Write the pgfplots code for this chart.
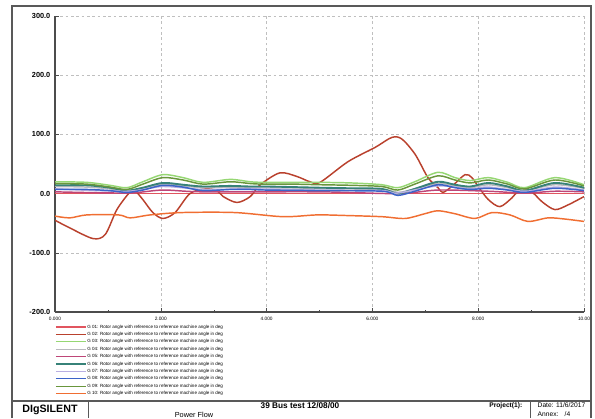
\documentclass[border=0pt]{standalone}
\usepackage{pgfplots}
\pgfplotsset{compat=1.18}
\usepackage{fontspec}
\setmainfont{Liberation Sans}
\definecolor{cG01}{RGB}{225,85,95}
\definecolor{cG02}{RGB}{185,65,45}
\definecolor{cG03}{RGB}{150,215,115}
\definecolor{cG04}{RGB}{185,185,190}
\definecolor{cG05}{RGB}{190,70,120}
\definecolor{cG06}{RGB}{55,130,120}
\definecolor{cG07}{RGB}{185,175,225}
\definecolor{cG08}{RGB}{60,100,200}
\definecolor{cG09}{RGB}{105,150,60}
\definecolor{cG10}{RGB}{240,110,50}
\begin{document}
\begin{tikzpicture}[x=0.75pt,y=0.75pt]
\path[use as bounding box] (0,0) rectangle (595,418);
\draw[black!65, line width=0.9pt] (12,0) -- (12,412) -- (591,412) -- (591,0);
\draw[black!65, line width=0.9pt] (12,17) -- (591,17);
\draw[black!65, line width=0.7pt] (88,0) -- (88,17);
\draw[black!65, line width=0.7pt] (530,0) -- (530,17);
\node[font=\fontsize{8}{9}\selectfont\bfseries] at (50,8) {DIgSILENT};
\node[font=\fontsize{6.2}{7}\selectfont\bfseries] at (300,12.5) {39 Bus test 12/08/00};
\node[font=\fontsize{5.5}{6}\selectfont] at (194,3) {Power Flow};
\node[font=\fontsize{5}{6}\selectfont\bfseries, anchor=east] at (527,12.5) {Project(1):};
\node[font=\fontsize{5}{6}\selectfont, anchor=west] at (533,12.5) {Date: 11/6/2017};
\node[font=\fontsize{5}{6}\selectfont, anchor=west] at (533,4) {Annex: \ \ /4};
\begin{axis}[
  at={(41.25pt,79.5pt)}, anchor=south west,
  scale only axis, width=396.75pt, height=222pt,
  xmin=0, xmax=10, ymin=-200, ymax=300,
  axis x line*=bottom, axis y line*=left,
  axis line style={black!70, line width=0.8pt},
  grid=major, major grid style={dash pattern=on 2pt off 2pt, black!25, line width=0.4pt},
  xtick={0,2,4,6,8,10},
  xticklabels={0.000,2.000,4.000,6.000,8.000,10.00},
  ytick={-200,-100,0,100,200,300},
  minor x tick num=1,
  /pgf/number format/assume math mode=true,
  y tick label style={/pgf/number format/fixed, /pgf/number format/fixed zerofill, /pgf/number format/precision=1, font=\fontsize{5.5}{6}\selectfont\bfseries},
  x tick label style={font=\fontsize{3.6}{4}\selectfont},
  tick align=inside, major tick length=3pt, minor tick length=1.5pt,
  tick style={black!70},
  legend style={at={(0,-0.04)}, anchor=north west, draw=none, fill=none,
    font=\fontsize{3.4}{4}\selectfont, inner sep=0pt,
    nodes={inner sep=0.5pt, text height=2.5pt, text depth=0.8pt},
    row sep=1.25pt},
  legend cell align=left,
  legend image code/.code={\draw[#1, line width=1pt] (0pt,0pt) -- (22.5pt,0pt);},
  every axis plot/.append style={line width=1.1pt, smooth, tension=0.5},
]
\addplot[cG01] coordinates {(0,0)(10,0)};
\addlegendentry{G 01: Rotor angle with reference to reference machine angle in deg}
\addplot[cG02] coordinates {(0,-45)(0.28,-58)(0.72,-76)(0.95,-69)(1.17,-27)(1.42,3)(1.51,5)(1.66,-10)(1.85,-32)(2.04,-42)(2.27,-32)(2.55,0)(2.84,8)(3.06,5)(3.18,-5)(3.44,-15)(3.69,-5)(3.88,15)(4.25,35)(4.57,29)(4.82,20)(5.01,19)(5.54,54)(6.05,78)(6.37,95)(6.56,92)(6.81,66)(7.05,27)(7.24,10)(7.33,2)(7.50,12)(7.75,32)(7.88,27)(8.00,12)(8.19,-10)(8.41,-22)(8.64,-7)(8.75,3)(8.98,5)(9.21,-14)(9.45,-27)(9.70,-19)(10,-5)};
\addlegendentry{G 02: Rotor angle with reference to reference machine angle in deg}
\addplot[cG03] coordinates {(0,20)(0.6,19)(1.04,14)(1.36,10)(1.66,20)(2.04,32)(2.42,27)(2.8,19)(3.31,24)(3.69,20)(3.93,19)(4.5,19)(5.0,19)(5.6,18)(6.18,15)(6.48,10)(6.8,20)(7.24,36)(7.56,27)(7.85,22)(8.19,27)(8.56,19)(8.88,10)(9.45,27)(10,15)};
\addlegendentry{G 03: Rotor angle with reference to reference machine angle in deg}
\addplot[cG04] coordinates {(0,12)(0.6,11)(1.04,8)(1.36,4)(1.66,9)(2.04,16)(2.42,13)(2.8,10)(3.31,11)(3.69,10)(4,10)(5,9)(6.18,7)(6.48,2)(6.8,8)(7.24,17)(7.56,13)(7.85,10)(8.19,15)(8.56,10)(8.88,5)(9.45,15)(10,9)};
\addlegendentry{G 04: Rotor angle with reference to reference machine angle in deg}
\addplot[cG05] coordinates {(0,3)(1.36,1)(2.04,6)(2.8,3)(5,3)(6.48,0)(7.24,6)(8.19,4)(8.88,1)(9.45,4)(10,3)};
\addlegendentry{G 05: Rotor angle with reference to reference machine angle in deg}
\addplot[cG06, line width=1.4pt] coordinates {(0,14)(0.6,14)(1.04,10)(1.36,5)(1.66,10)(2.04,18)(2.42,15)(2.8,12)(3.31,13)(3.69,12)(4,12)(5,10)(5.6,9)(6.18,8)(6.48,0)(6.8,8)(7.24,20)(7.56,15)(7.85,12)(8.19,18)(8.56,12)(8.88,5)(9.45,18)(10,10)};
\addlegendentry{G 06: Rotor angle with reference to reference machine angle in deg}
\addplot[cG07] coordinates {(0,8)(1.36,4)(2.04,12)(2.8,7)(3.69,8)(5,6)(6.18,5)(6.48,1)(7.24,13)(7.85,8)(8.19,11)(8.88,4)(9.45,11)(10,6)};
\addlegendentry{G 07: Rotor angle with reference to reference machine angle in deg}
\addplot[cG08] coordinates {(0,7)(0.6,7)(1.04,5)(1.36,2)(1.66,6)(2.04,14)(2.42,11)(2.8,5)(3.31,7)(3.69,7)(4,6)(5,5)(6.18,4)(6.48,-3)(6.8,4)(7.24,15)(7.56,10)(7.85,7)(8.19,9)(8.56,6)(8.88,2)(9.45,9)(10,5)};
\addlegendentry{G 08: Rotor angle with reference to reference machine angle in deg}
\addplot[cG09] coordinates {(0,17)(0.6,16)(1.04,11)(1.36,7)(1.66,16)(2.04,27)(2.42,23)(2.8,16)(3.31,20)(3.69,17)(3.93,16)(4.5,16)(5.0,15)(5.6,14)(6.18,12)(6.48,6)(6.8,16)(7.24,30)(7.56,23)(7.85,18)(8.19,23)(8.56,16)(8.88,8)(9.45,23)(10,13)};
\addlegendentry{G 09: Rotor angle with reference to reference machine angle in deg}
\addplot[cG10] coordinates {(0,-38)(0.28,-41)(0.6,-36)(1.2,-36)(1.42,-41)(1.8,-36)(2.4,-32)(3.4,-32)(4.31,-39)(4.95,-36)(5.5,-37)(6.18,-39)(6.62,-42)(6.99,-34)(7.24,-29)(7.56,-34)(7.94,-42)(8.26,-32)(8.6,-36)(8.94,-47)(9.32,-41)(9.64,-43)(10,-47)};
\addlegendentry{G 10: Rotor angle with reference to reference machine angle in deg}
\node[font=\fontsize{3.6}{4}\selectfont, anchor=north, yshift=-3.5pt] at (axis cs:9,-200) {[s]};
\end{axis}
\end{tikzpicture}
\end{document}
